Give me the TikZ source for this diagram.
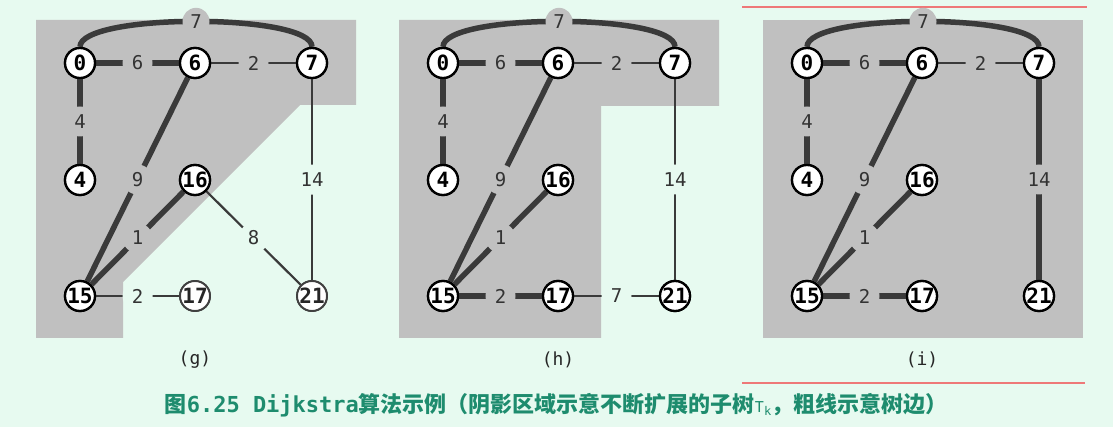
\documentclass[tikz,border=0pt]{standalone}
\usepackage{fontspec}
\setmonofont{DejaVu Sans Mono}
\newfontfamily\cjk{Noto Sans CJK SC}
\definecolor{bgc}{RGB}{231,250,240}
\definecolor{regc}{RGB}{192,192,192}
\definecolor{edgec}{RGB}{58,58,58}
\definecolor{capc}{RGB}{30,140,110}
\definecolor{redl}{RGB}{238,120,120}
\tikzset{
  vtx/.style={circle,draw=black,line width=2.3pt,fill=white,inner sep=0pt,minimum size=30pt,
    font=\ttfamily\bfseries\fontsize{21pt}{21pt}\selectfont},
  vtxf/.style={vtx,draw=black!75,line width=1.9pt,text=black!85},
  thk/.style={draw=edgec,line width=5.5pt},
  thn/.style={draw=edgec,line width=2.2pt},
  lg/.style={circle,fill=regc,inner sep=0pt,minimum size=30pt,text=black!80,
    font=\ttfamily\fontsize{19pt}{19pt}\selectfont},
  lb/.style={lg,fill=bgc},
  sub/.style={font=\ttfamily\fontsize{18pt}{18pt}\selectfont,text=black!85},
}
\newcommand{\placenodes}[2]{%
  \node[vtx] (#1n0) at (80,63) {0};
  \node[vtx] (#1n6) at (195,63) {6};
  \node[vtx] (#1n7) at (312,63) {7};
  \node[vtx] (#1n4) at (80,180) {4};
  \node[vtx] (#1n16) at (195,180) {16};
  \node[vtx] (#1n15) at (80,296) {15};
  \node[#2] (#1n17) at (195,296) {17};
  \node[#2] (#1n21) at (312,296) {21};
}
\begin{document}
\begin{tikzpicture}[x=1pt,y=-1pt]
\fill[bgc] (0,0) rectangle (1113,427);
\useasboundingbox (0,0) rectangle (1113,427);
% red marks
\draw[redl,line width=1.8pt] (742,7) -- (1087,7);
\draw[redl,line width=1.8pt] (742,383) -- (1085,383);
% ---------------- panel g
\begin{scope}
\fill[regc] (36,20) -- (356,20) -- (356,105) -- (300,105) -- (123,282) -- (123,338) -- (36,338) -- cycle;
\placenodes{g}{vtxf}
\path[thk] (gn0.north) .. controls +(0,-34) and +(0,-34) .. node[lg,pos=0.5,minimum size=27pt]{7} (gn7.north);
\path[thk] (gn0) -- node[lg]{6} (gn6);
\path[thn] (gn6) -- node[lg]{2} (gn7);
\path[thk] (gn0) -- node[lg]{4} (gn4);
\path[thk] (gn6) -- node[lg]{9} (gn15);
\path[thk] (gn16) -- node[lg]{1} (gn15);
\path[thn] (gn15) -- node[lb]{2} (gn17);
\path[thn] (gn16) -- node[lb]{8} (gn21);
\path[thn] (gn7) -- node[lb]{14} (gn21);
\placenodes{g}{vtxf}
\node[sub] (gsub) at (195,360) {(g)};
\end{scope}
% ---------------- panel h
\begin{scope}[shift={(363,0)}]
\fill[regc] (36,20) -- (356,20) -- (356,106) -- (238,106) -- (238,338) -- (36,338) -- cycle;
\placenodes{h}{vtx}
\path[thk] (hn0.north) .. controls +(0,-34) and +(0,-34) .. node[lg,pos=0.5,minimum size=27pt]{7} (hn7.north);
\path[thk] (hn0) -- node[lg]{6} (hn6);
\path[thn] (hn6) -- node[lg]{2} (hn7);
\path[thk] (hn0) -- node[lg]{4} (hn4);
\path[thk] (hn6) -- node[lg]{9} (hn15);
\path[thk] (hn16) -- node[lg]{1} (hn15);
\path[thk] (hn15) -- node[lg]{2} (hn17);
\path[thn] (hn17) -- node[lb]{7} (hn21);
\path[thn] (hn7) -- node[lb]{14} (hn21);
\placenodes{h}{vtx}
\node[sub] (hsub) at (195,360) {(h)};
\end{scope}
% ---------------- panel i
\begin{scope}[shift={(727,0)}]
\fill[regc] (36,20) rectangle (356,338);
\placenodes{i}{vtx}
\path[thk] (in0.north) .. controls +(0,-34) and +(0,-34) .. node[lg,pos=0.5,minimum size=27pt]{7} (in7.north);
\path[thk] (in0) -- node[lg]{6} (in6);
\path[thn] (in6) -- node[lg]{2} (in7);
\path[thk] (in0) -- node[lg]{4} (in4);
\path[thk] (in6) -- node[lg]{9} (in15);
\path[thk] (in16) -- node[lg]{1} (in15);
\path[thk] (in15) -- node[lg]{2} (in17);
\path[thk] (in7) -- node[lg]{14} (in21);
\placenodes{i}{vtx}
\node[sub] (isub) at (195,360) {(i)};
\end{scope}
% caption
\node[text=capc,inner sep=0pt] (cap) at (556,405) {{\cjk\bfseries\fontsize{22pt}{22pt}\selectfont 图}{\ttfamily\bfseries\fontsize{22pt}{22pt}\selectfont 6.25 Dijkstra}{\cjk\bfseries\fontsize{22pt}{22pt}\selectfont 算法示例（阴影区域示意不断扩展的子树}{\ttfamily\fontsize{15pt}{15pt}\selectfont T\raisebox{-3pt}{\fontsize{12pt}{12pt}\selectfont k}}{\cjk\bfseries\fontsize{22pt}{22pt}\selectfont ，粗线示意树边）}};
\end{tikzpicture}
\end{document}
